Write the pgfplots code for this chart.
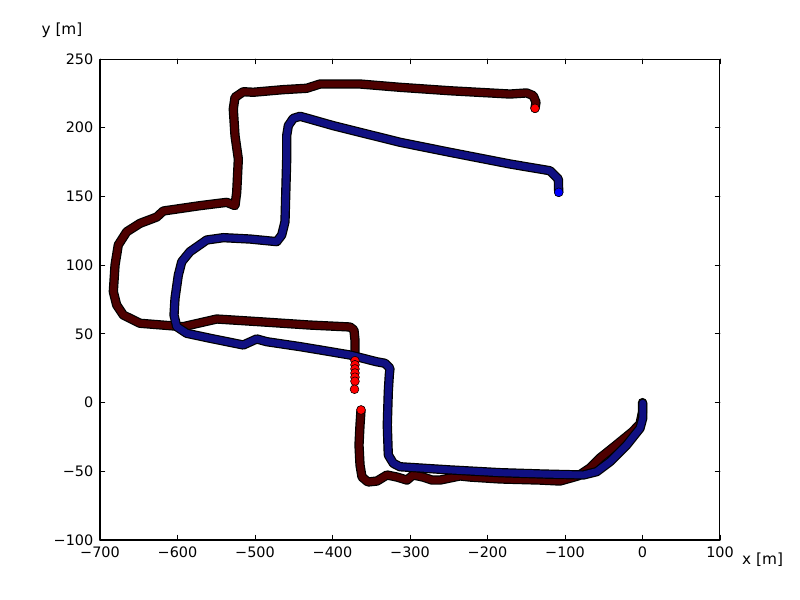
\documentclass[border=0pt]{standalone}
\usepackage{fontspec}
\setmainfont{DejaVu Sans}
\usepackage{pgfplots}
\pgfplotsset{compat=1.18}
\definecolor{redband}{RGB}{78,0,0}
\definecolor{blueband}{RGB}{16,16,130}
\definecolor{mred}{RGB}{255,0,0}
\definecolor{mblue}{RGB}{0,0,255}

\begin{document}
\begin{tikzpicture}
\path[use as bounding box] (-75pt,-45pt) rectangle (525pt,405pt);
\begin{axis}[
    name=ax, at={(0,0)}, anchor=south west,
    scale only axis, width=465pt, height=360.75pt,
    xmin=-700, xmax=100, ymin=-100, ymax=250,
    xtick={-700,-600,...,100},
    xticklabels={−700,−600,−500,−400,−300,−200,−100,0,100},
    ytick={-100,-50,...,250},
    yticklabels={−100,−50,0,50,100,150,200,250},
    tick align=inside, major tick length=3.5pt,
    tick style={black, line width=0.6pt},
    axis line style={black, line width=0.75pt},
    ticklabel style={font=\fontsize{10.8}{13}\selectfont},
    xticklabel style={yshift=-1.5pt},
    yticklabel style={xshift=-1.5pt},
    line join=round, line cap=round,
]
% red run, before the gap
\addplot[black, line width=7pt] coordinates {
(0,0) (0,-6.9) (-3.2,-15.6) (-13.5,-21.5) (-35.5,-31.6) (-54.8,-40.3)
(-67.7,-47.6) (-83.2,-53.4) (-106.5,-57.1) (-132.3,-56.4) (-183.9,-55.6)
(-222.6,-54.2) (-235.5,-53.4) (-248.4,-54.9) (-261.3,-56.4) (-271.6,-56.4)
(-283.2,-54.2) (-296.1,-52.7) (-303.9,-56.4) (-316.8,-54.2) (-329.7,-52.7)
(-342.6,-57.1) (-354.2,-57.8) (-361.9,-54.2) (-364.5,-45.4) (-365.8,-30.9)
(-364.5,-16.3) (-363.2,-5.4)
};
\addplot[redband, line width=5.2pt] coordinates {
(0,0) (0,-6.9) (-3.2,-15.6) (-13.5,-21.5) (-35.5,-31.6) (-54.8,-40.3)
(-67.7,-47.6) (-83.2,-53.4) (-106.5,-57.1) (-132.3,-56.4) (-183.9,-55.6)
(-222.6,-54.2) (-235.5,-53.4) (-248.4,-54.9) (-261.3,-56.4) (-271.6,-56.4)
(-283.2,-54.2) (-296.1,-52.7) (-303.9,-56.4) (-316.8,-54.2) (-329.7,-52.7)
(-342.6,-57.1) (-354.2,-57.8) (-361.9,-54.2) (-364.5,-45.4) (-365.8,-30.9)
(-364.5,-16.3) (-363.2,-5.4)
};
% red run, after the gap
\addplot[black, line width=7pt] coordinates {
(-371,33.2) (-371,45.6) (-372.3,52.8) (-377.4,55.0) (-403.2,55.7) (-429.0,56.4)
(-493.5,58.8) (-549.4,60.8) (-592.9,55.2) (-648.4,57.7) (-669.9,63.7)
(-678.5,71.0) (-682.8,80.7) (-680.6,100.1) (-676.4,114.7) (-665.5,124.3)
(-648.4,130.4) (-626.8,135.0) (-618.3,139.4) (-570.9,143.3) (-536.5,145.7)
(-525.8,143.3) (-523.6,153.0) (-521.5,177.2) (-525.8,194.2) (-528.0,213.6)
(-525.8,222.1) (-515.1,226.2) (-502.2,225.8) (-463.5,227.7) (-433.3,228.7)
(-416.1,231.8) (-364.5,231.8) (-312.9,229.4) (-248.4,226.9) (-171.0,224.5)
(-149.4,225.3) (-140.9,223.3) (-137.4,218.5) (-138.7,214.1)
};
\addplot[redband, line width=5.2pt] coordinates {
(-371,33.2) (-371,45.6) (-372.3,52.8) (-377.4,55.0) (-403.2,55.7) (-429.0,56.4)
(-493.5,58.8) (-549.4,60.8) (-592.9,55.2) (-648.4,57.7) (-669.9,63.7)
(-678.5,71.0) (-682.8,80.7) (-680.6,100.1) (-676.4,114.7) (-665.5,124.3)
(-648.4,130.4) (-626.8,135.0) (-618.3,139.4) (-570.9,143.3) (-536.5,145.7)
(-525.8,143.3) (-523.6,153.0) (-521.5,177.2) (-525.8,194.2) (-528.0,213.6)
(-525.8,222.1) (-515.1,226.2) (-502.2,225.8) (-463.5,227.7) (-433.3,228.7)
(-416.1,231.8) (-364.5,231.8) (-312.9,229.4) (-248.4,226.9) (-171.0,224.5)
(-149.4,225.3) (-140.9,223.3) (-137.4,218.5) (-138.7,214.1)
};
% sparse red points
\addplot[only marks, mark=*, mark size=3.3pt,
    mark options={fill=mred, draw=black, line width=0.4pt}] coordinates {
(-371,30.5) (-371,27.5) (-371,24.5) (-371,21.5) (-371,18.5) (-371,15.5)
(-371.6,9.7) (-363.2,-5.4) (-138.7,214.1)
};
% blue run
\addplot[black, line width=7pt] coordinates {
(0.3,-0.5) (0.3,-11.4) (-3.2,-18.7) (-20.4,-30.9) (-41.9,-43.0) (-59.1,-50.3)
(-76.4,-52.7) (-128.0,-52.0) (-183.9,-51.0) (-248.4,-49.0) (-312.9,-46.7)
(-321.5,-44.2) (-328.0,-38.1) (-329.3,-16.3) (-328.0,7.9) (-326.7,20.1)
(-325.8,24.9) (-332.3,28.6) (-343.0,29.7) (-377.4,34.6) (-416.1,38.3)
(-441.9,40.7) (-484.9,44.3) (-497.8,46.3) (-515.1,41.9) (-558.1,46.8)
(-588.1,50.4) (-601.0,55.2) (-604.5,63.7) (-603.2,75.9) (-598.9,92.8)
(-594.5,102.5) (-583.9,109.8) (-562.3,118.3) (-540.9,120.0) (-506.5,119.0)
(-472.0,117.1) (-465.5,121.9) (-461.3,131.6) (-459.1,177.2) (-459.1,194.2)
(-457.0,201.5) (-450.6,206.8) (-441.9,208.3) (-429.0,206.3) (-399.1,201.5)
(-312.9,189.4) (-248.4,182.1) (-171.0,173.6) (-119.4,168.7) (-108.6,162.7)
(-108.1,153.0)
};
\addplot[blueband, line width=5.2pt] coordinates {
(0.3,-0.5) (0.3,-11.4) (-3.2,-18.7) (-20.4,-30.9) (-41.9,-43.0) (-59.1,-50.3)
(-76.4,-52.7) (-128.0,-52.0) (-183.9,-51.0) (-248.4,-49.0) (-312.9,-46.7)
(-321.5,-44.2) (-328.0,-38.1) (-329.3,-16.3) (-328.0,7.9) (-326.7,20.1)
(-325.8,24.9) (-332.3,28.6) (-343.0,29.7) (-377.4,34.6) (-416.1,38.3)
(-441.9,40.7) (-484.9,44.3) (-497.8,46.3) (-515.1,41.9) (-558.1,46.8)
(-588.1,50.4) (-601.0,55.2) (-604.5,63.7) (-603.2,75.9) (-598.9,92.8)
(-594.5,102.5) (-583.9,109.8) (-562.3,118.3) (-540.9,120.0) (-506.5,119.0)
(-472.0,117.1) (-465.5,121.9) (-461.3,131.6) (-459.1,177.2) (-459.1,194.2)
(-457.0,201.5) (-450.6,206.8) (-441.9,208.3) (-429.0,206.3) (-399.1,201.5)
(-312.9,189.4) (-248.4,182.1) (-171.0,173.6) (-119.4,168.7) (-108.6,162.7)
(-108.1,153.0)
};
\addplot[only marks, mark=*, mark size=3.3pt,
    mark options={fill=mblue, draw=black, line width=0.4pt}] coordinates {
(-108.1,153.0)
};
\end{axis}
\node[font=\fontsize{11.5}{14}\selectfont] at ([xshift=-28.5pt,yshift=21.75pt]ax.north west) {y [m]};
\node[font=\fontsize{11.5}{14}\selectfont] at ([xshift=32pt,yshift=-15pt]ax.south east) {x [m]};
\end{tikzpicture}
\end{document}
